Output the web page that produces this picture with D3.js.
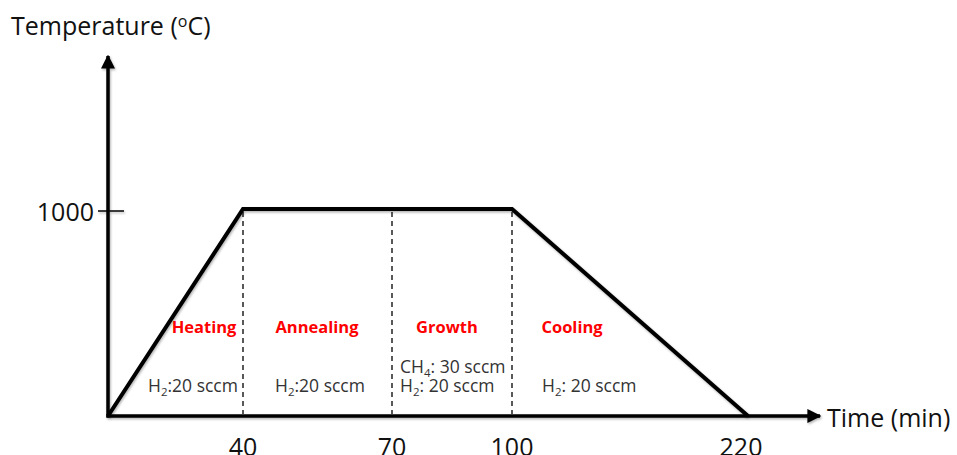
<!DOCTYPE html>
<html>
<head>
<meta charset="utf-8">
<script src="https://cdn.jsdelivr.net/npm/d3@7"></script>
<style>
  body { margin: 0; background: #fff; }
  svg { display: block; font-family: "Open Sans", "Liberation Sans", sans-serif; }
</style>
</head>
<body>
<div id="chart"></div>
<script>
// process steps
const times = [0, 40, 70, 100, 220];
const temps = [0, 1000, 1000, 1000, 0];
const tickTimes = [40, 70, 100, 220];
const tempTicks = [1000];
const phases = ["Heating", "Annealing", "Growth", "Cooling"];
const gasLines = [
  [["H", "2", ":20 sccm"]],
  [["H", "2", ":20 sccm"]],
  [["CH", "4", ": 30 sccm"], ["H", "2", ": 20 sccm"]],
  [["H", "2", ": 20 sccm"]]
];
const dividers = [40, 70, 100];

const W = 957, H = 455;
const svg = d3.select("#chart").append("svg")
  .attr("width", W).attr("height", H);

// time axis is not to scale in the drawing: piecewise linear
const x = d3.scaleLinear()
  .domain(times)
  .range([108, 243, 392, 512, 748]);
const y = d3.scaleLinear()
  .domain([0, 1000])
  .range([416, 209]);

const x0 = x(0), y0 = y(0);

const defs = svg.append("defs");
defs.append("marker")
  .attr("id", "arrow")
  .attr("viewBox", "0 0 10 10")
  .attr("refX", 9).attr("refY", 5)
  .attr("markerWidth", 4).attr("markerHeight", 4)
  .attr("orient", "auto")
  .append("path")
  .attr("d", "M0,0 L10,5 L0,10 Z")
  .attr("fill", "#000");

// soft office-style shadow
defs.append("filter")
  .attr("id", "shadow")
  .attr("x", "-5%").attr("y", "-5%").attr("width", "110%").attr("height", "110%")
  .append("feDropShadow")
  .attr("dx", 1).attr("dy", 1.5).attr("stdDeviation", 1)
  .attr("flood-color", "#000").attr("flood-opacity", 0.3);

const axes = svg.append("g").attr("filter", "url(#shadow)");

axes.append("line")
  .attr("x1", x0).attr("y1", y0 + 1.5)
  .attr("x2", x0).attr("y2", 56)
  .attr("stroke", "#000").attr("stroke-width", 3.5)
  .attr("marker-end", "url(#arrow)");

axes.append("line")
  .attr("x1", x0 - 1.5).attr("y1", y0)
  .attr("x2", 820).attr("y2", y0)
  .attr("stroke", "#000").attr("stroke-width", 3.5)
  .attr("marker-end", "url(#arrow)");

// y tick
tempTicks.forEach(t => {
  axes.append("line")
    .attr("x1", x0 - 10).attr("x2", x0 + 16)
    .attr("y1", y(t) + 2).attr("y2", y(t) + 2)
    .attr("stroke", "#000").attr("stroke-width", 1.5);
  svg.append("text")
    .attr("x", x0 - 14).attr("y", y(t) + 12)
    .attr("text-anchor", "end")
    .style("font-size", "25px")
    .attr("fill", "#111")
    .text(t);
});

// x tick labels
tickTimes.forEach(t => {
  svg.append("text")
    .attr("x", x(t) - (t === 220 ? 7 : 0)).attr("y", 456)
    .attr("text-anchor", "middle")
    .style("font-size", "25px")
    .attr("fill", "#111")
    .text(t);
});

// axis titles
const yt = svg.append("text")
  .attr("x", 11).attr("y", 35)
  .style("font-size", "25px")
  .attr("fill", "#111");
yt.append("tspan").text("Temperature (");
yt.append("tspan").attr("dy", -8).style("font-size", "16px").text("o");
yt.append("tspan").attr("dy", 8).text("C)");

svg.append("text")
  .attr("x", 827).attr("y", 427)
  .style("font-size", "25px")
  .attr("fill", "#111")
  .text("Time (min)");

// dashed phase dividers
dividers.forEach(t => {
  svg.append("line")
    .attr("x1", x(t)).attr("x2", x(t))
    .attr("y1", y(1000) + 3).attr("y2", y0 - 2)
    .attr("stroke", "#000").attr("stroke-width", 1.3)
    .attr("stroke-dasharray", "5,4");
});

// temperature profile
const line = d3.line()
  .x((d, i) => x(times[i]))
  .y(d => y(d));

svg.append("path")
  .datum(temps)
  .attr("d", line)
  .attr("fill", "none")
  .attr("stroke", "#000")
  .attr("stroke-width", 4)
  .attr("stroke-linejoin", "miter")
  .attr("filter", "url(#shadow)");

// phase labels
const phaseX = [204, 317, 447, 572];
phases.forEach((p, i) => {
  svg.append("text")
    .attr("x", phaseX[i]).attr("y", 333)
    .attr("text-anchor", "middle")
    .style("font-size", "16.5px")
    .style("font-weight", "bold")
    .attr("fill", "#ff0000")
    .text(p);
});

// gas flow labels (left edges)
const gasX = [148, 275, 400, 542];
gasLines.forEach((lines, i) => {
  const n = lines.length;
  lines.forEach((parts, j) => {
    const t = svg.append("text")
      .attr("x", gasX[i]).attr("y", 392 - (n - 1 - j) * 19)
      .style("font-size", "17.5px")
      .attr("fill", "#333");
    t.append("tspan").text(parts[0]);
    t.append("tspan").attr("dy", 4).style("font-size", "11.5px").text(parts[1]);
    t.append("tspan").attr("dy", -4).text(parts[2]);
  });
});
</script>
</body>
</html>
